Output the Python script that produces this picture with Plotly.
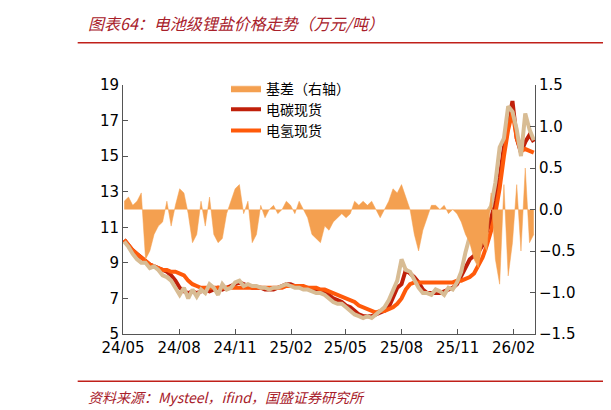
import pandas as pd
import plotly.graph_objects as go

dates = pd.date_range("2024-05-03", periods=97, freq="W-FRI")

carbonate = [10.3, 10.0, 9.7, 9.5, 9.3, 9.1, 8.9, 8.8, 8.7, 8.6, 8.5, 8.3, 8.0,
             7.6, 7.4, 7.3, 7.4, 7.3, 7.4, 7.5, 7.4, 7.5, 7.6, 7.5, 7.6, 7.7,
             7.8, 7.9, 7.8, 7.7, 7.6, 7.6, 7.6, 7.5, 7.5, 7.5, 7.6, 7.7, 7.8, 7.8,
             7.7, 7.7, 7.6, 7.6, 7.5, 7.5, 7.4, 7.4, 7.2, 7.0, 6.9, 6.8,
             6.6, 6.5, 6.3, 6.1, 6.0, 6.0, 6.0, 6.1, 6.2, 6.3, 6.5, 7.0, 7.6,
             7.8, 8.6, 8.4, 8.2, 7.9, 7.5, 7.3, 7.3, 7.3, 7.3, 7.4, 7.5, 7.6, 7.8,
             8.3, 8.8, 9.2, 9.4, 9.6, 10.0, 10.8, 11.5, 12.5, 13.8, 15.5, 16.8, 18.1,
             16.0, 15.2, 15.8, 16.2, 15.8]

hydroxide = [10.3, 10.0, 9.7, 9.5, 9.3, 9.1, 8.9, 8.8, 8.7, 8.6, 8.6, 8.5, 8.5,
             8.4, 8.3, 8.0, 7.8, 7.7, 7.6, 7.6, 7.6, 7.6, 7.6, 7.6, 7.6, 7.6,
             7.6, 7.6, 7.6, 7.6, 7.6, 7.6, 7.6, 7.6, 7.6, 7.6, 7.6, 7.6, 7.7, 7.7,
             7.7, 7.7, 7.7, 7.6, 7.6, 7.6, 7.5, 7.5, 7.4, 7.3, 7.2, 7.1,
             7.0, 6.9, 6.8, 6.6, 6.5, 6.4, 6.3, 6.2, 6.3, 6.3, 6.4, 6.5, 6.7,
             7.0, 7.5, 7.8, 7.9, 7.9, 7.9, 7.9, 7.9, 7.9, 7.9, 7.9, 7.9, 7.9, 8.0,
             8.0, 8.1, 8.2, 8.4, 8.8, 9.3, 10.0, 10.8, 11.8, 13.2, 15.0, 16.5, 17.5,
             16.0, 15.3, 15.4, 15.3, 15.2]

futures = [10.2, 9.9, 9.5, 9.2, 9.0, 9.0, 8.7, 8.8, 8.6, 8.3, 8.2, 8.0, 7.6,
           7.2, 7.6, 7.0, 7.5, 7.1, 7.5, 7.3, 7.8, 7.6, 7.2, 7.8, 7.5, 7.6,
           7.9, 8.0, 7.7, 7.8, 7.7, 7.7, 7.6, 7.6, 7.5, 7.6, 7.6, 7.7, 7.8, 7.7,
           7.6, 7.6, 7.5, 7.5, 7.4, 7.3, 7.3, 7.2, 7.0, 6.8, 6.7, 6.7,
           6.5, 6.3, 6.1, 6.0, 5.9, 6.0, 5.9, 6.1, 6.3, 6.5, 6.9, 7.5, 8.0,
           9.2, 8.6, 8.5, 8.0, 7.6, 7.3, 7.3, 7.2, 7.5, 7.4, 7.2, 7.6, 7.5, 7.9,
           8.5, 9.6, 10.5, 9.8, 10.0, 11.0, 11.8, 12.2, 13.5, 15.5, 16.0, 17.8, 17.5,
           16.5, 15.0, 17.4, 16.5, 15.9]

basis = [0.1, 0.15, 0.05, 0.1, 0.2, -0.6, -0.5, -0.3, -0.2, -0.15, 0.1, -0.2, 0.05,
         0.25, 0.2, -0.05, -0.4, -0.3, 0.1, -0.2, 0.15, -0.3, -0.4, -0.35, -0.05, 0.1,
         0.25, 0.3, -0.05, 0.1, -0.4, -0.3, 0.05, -0.1, 0.0, 0.05, -0.05, 0.0, 0.1, 0.05,
         -0.05, 0.1, 0.0, -0.1, -0.3, -0.35, -0.4, -0.2, -0.25, -0.15, -0.1, -0.05,
         -0.1, -0.05, 0.1, 0.05, 0.1, 0.05, 0.1, 0.0, -0.1, 0.0, 0.1, 0.25, 0.2,
         0.3, 0.15, 0.0, -0.3, -0.5, -0.25, -0.1, 0.05, 0.05, 0.0, 0.05, -0.05, 0.0, -0.05,
         -0.15, -0.3, -0.4, -0.6, -0.7, -0.4, -0.5, 0.2, -0.6, -0.9, 0.3, -0.8, -0.4,
         0.3, -0.5, 0.5, -0.4, -0.3]

tick_dates = ["2024-05-01", "2024-08-01", "2024-11-01", "2025-02-01",
              "2025-05-01", "2025-08-01", "2025-11-01", "2026-02-01"]
tick_text = ["24/05", "24/08", "24/11", "25/02", "25/05", "25/08", "25/11", "26/02"]

font = "DejaVu Sans, Noto Sans CJK SC"
cjk = "Noto Sans CJK SC"

fig = go.Figure()
fig.add_trace(go.Scatter(x=dates, y=basis, name="基差（右轴）", yaxis="y2",
                         mode="lines", line=dict(color="#F4A050", width=0.5),
                         fill="tozeroy", fillcolor="#F4A050"))
fig.add_trace(go.Scatter(x=dates, y=carbonate, name="电碳现货", mode="lines",
                         line=dict(color="#C0200A", width=4)))
fig.add_trace(go.Scatter(x=dates, y=hydroxide, name="电氢现货", mode="lines",
                         line=dict(color="#FF5A0A", width=4)))
fig.add_trace(go.Scatter(x=dates, y=futures, name="期货", mode="lines", showlegend=False,
                         line=dict(color="#D8BC94", width=4)))

fig.update_layout(
    width=611, height=410, plot_bgcolor="white", paper_bgcolor="white",
    margin=dict(l=115, r=84, t=77, b=84),
    font=dict(family=font, size=15, color="black"),
    xaxis=dict(range=["2024-05-01", "2026-03-08"], tickvals=tick_dates, ticktext=tick_text,
               showline=True, linecolor="#555", ticks="inside", ticklen=5, tickcolor="#555",
               showgrid=False),
    yaxis=dict(range=[5, 19], tick0=5, dtick=2, showline=True, linecolor="#555", ticks="inside",
               ticklen=5, tickcolor="#555", showgrid=False, zeroline=False),
    yaxis2=dict(range=[-1.5, 1.5], tick0=-1.5, dtick=0.5, tickformat=".1f", overlaying="y",
                side="right", showline=True, linecolor="#555", ticks="inside", ticklen=5,
                tickcolor="#555", showgrid=False, zeroline=False),
    legend=dict(x=0.25, y=1.05, xanchor="left", yanchor="top", bgcolor="rgba(0,0,0,0)",
                font=dict(family=cjk, size=14), tracegroupgap=4),
    showlegend=True,
)

fig.add_annotation(text="<i>图表64：电池级锂盐价格走势（万元/吨）</i>", xref="paper", yref="paper",
                   x=-0.09, y=1.25, xanchor="left", yanchor="middle", showarrow=False,
                   font=dict(family=cjk, size=16, color="#A8202A"))
fig.add_annotation(text="<i>资料来源：Mysteel，ifind，国盛证券研究所</i>", xref="paper", yref="paper",
                   x=-0.09, y=-0.255, xanchor="left", yanchor="middle", showarrow=False,
                   font=dict(family=cjk, size=14, color="#A8202A"))
fig.add_shape(type="line", xref="paper", yref="paper", x0=-0.11, x1=1.2, y0=1.17, y1=1.17,
              line=dict(color="#C0201A", width=1.5))
fig.add_shape(type="line", xref="paper", yref="paper", x0=-0.11, x1=1.2, y0=-0.19, y1=-0.19,
              line=dict(color="#C0201A", width=1.5))

fig.write_html("out.html")
